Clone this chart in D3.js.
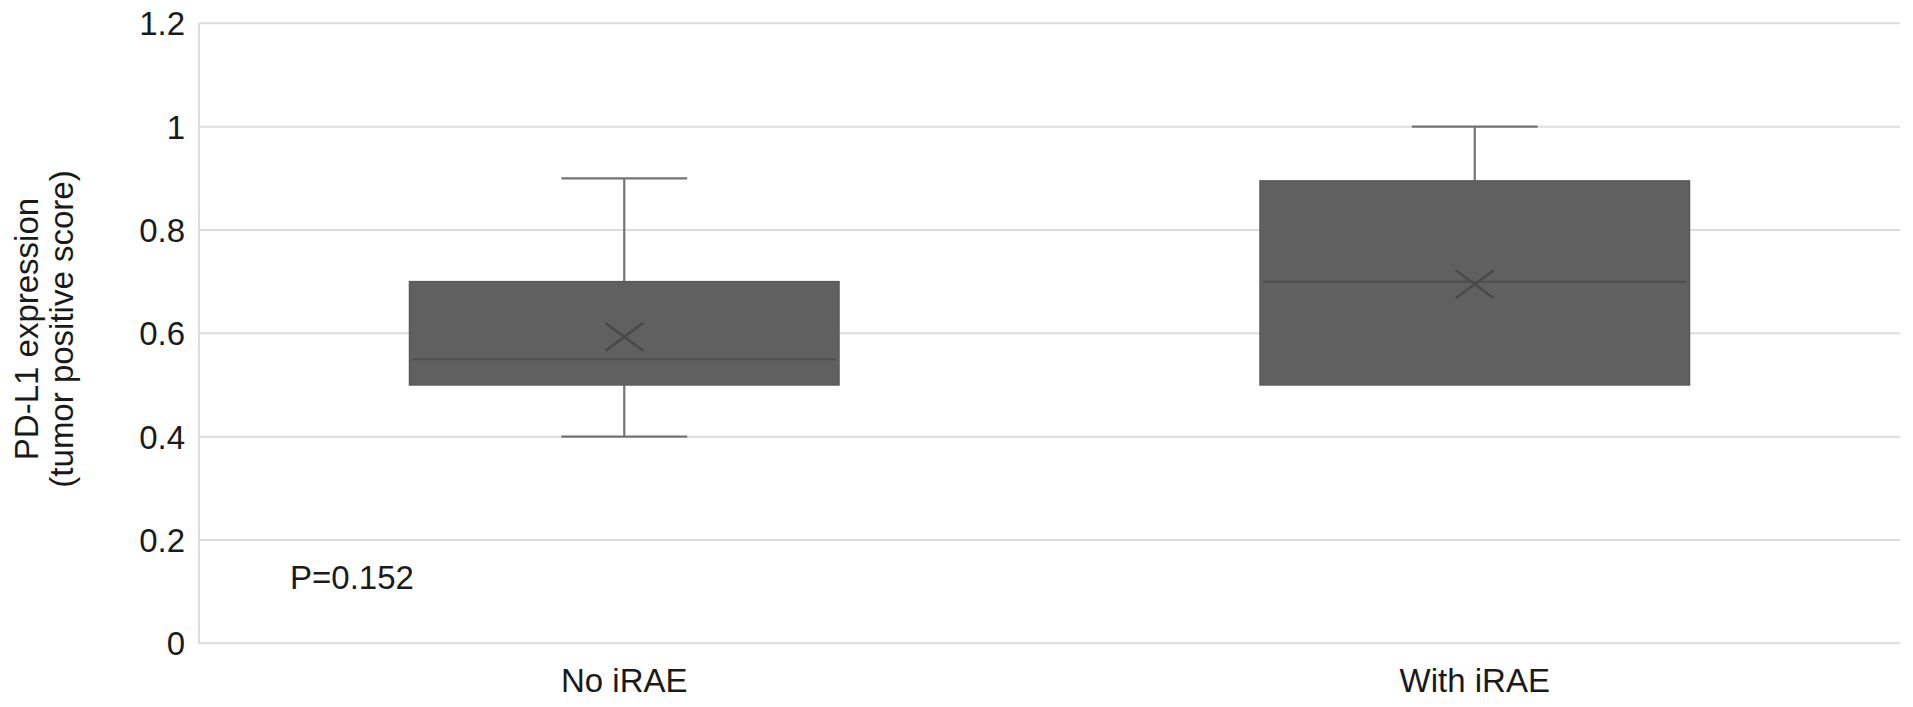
<!DOCTYPE html>
<html>
<head>
<meta charset="utf-8">
<script src="https://cdn.jsdelivr.net/npm/d3@7"></script>
<style>
  html, body { margin: 0; padding: 0; background: #fff; }
  svg { display: block; }
  text { font-family: "Liberation Sans", Arial, sans-serif; fill: #1a1a1a; }
</style>
</head>
<body>
<svg id="chart" width="1913" height="707"></svg>
<script>
// ---- data ----
const categories = ["No iRAE", "With iRAE"];
const whiskerMin = [0.40, 0.50];
const q1 = [0.50, 0.50];
const median = [0.55, 0.70];
const q3 = [0.70, 0.895];
const whiskerMax = [0.90, 1.00];
const mean = [0.593, 0.695];
const yTicks = [0, 0.2, 0.4, 0.6, 0.8, 1, 1.2];
const yTitleLines = ["PD-L1 expression", "(tumor positive score)"];
const annotation = "P=0.152";

// ---- layout ----
const svg = d3.select("#chart");
const plotLeft = 199, plotRight = 1900, plotTop = 23.3, plotBottom = 643.3;
const FS = 33;

const x = d3.scaleBand().domain(categories).range([plotLeft, plotRight]).paddingInner(0).paddingOuter(0);
const y = d3.scaleLinear().domain([0, 1.2]).range([plotBottom, plotTop]);

// gridlines
svg.append("g").selectAll("line").data(yTicks).join("line")
  .attr("x1", plotLeft).attr("x2", plotRight)
  .attr("y1", d => y(d)).attr("y2", d => y(d))
  .attr("stroke", "#dcdcdc").attr("stroke-width", 2);

// left axis line
svg.append("line").attr("x1", plotLeft).attr("x2", plotLeft)
  .attr("y1", y(1.2)).attr("y2", y(0))
  .attr("stroke", "#dcdcdc").attr("stroke-width", 2);

// y tick labels via axis
const yAxis = d3.axisLeft(y).tickValues(yTicks).tickSize(0).tickPadding(14)
  .tickFormat(d => d3.format("~g")(d));
const ya = svg.append("g").attr("transform", `translate(${plotLeft},0)`).call(yAxis);
ya.select(".domain").remove();
ya.selectAll("text").attr("font-size", FS).attr("font-family", "Liberation Sans, Arial, sans-serif")
  .attr("fill", "#1a1a1a").attr("dy", "0.35em");

// x tick labels via axis
const xAxis = d3.axisBottom(x).tickSize(0).tickPadding(0);
const xa = svg.append("g").attr("transform", `translate(0,${plotBottom})`).call(xAxis);
xa.select(".domain").remove();
xa.selectAll("text").attr("font-size", FS).attr("font-family", "Liberation Sans, Arial, sans-serif")
  .attr("fill", "#1a1a1a").attr("dy", null).attr("y", 49);

// y title
const yt = svg.append("text")
  .attr("transform", `translate(0,${329}) rotate(-90)`)
  .attr("text-anchor", "middle").attr("font-size", FS);
yt.selectAll("tspan").data(yTitleLines).join("tspan")
  .attr("x", 0).attr("y", (d, i) => 38 + i * 35)
  .text(d => d);

// boxes
const bw = x.bandwidth();
const boxW = bw * 0.505;
const capW = bw * 0.148;
const data = categories.map((c, i) => ({
  c, lo: whiskerMin[i], q1: q1[i], med: median[i], q3: q3[i], hi: whiskerMax[i], mean: mean[i]
}));

const g = svg.append("g").selectAll("g").data(data).join("g");
const cx = d => x(d.c) + bw / 2;
const wc = "#747474", ww = 2.2;

// upper whisker + cap
g.append("line").attr("x1", cx).attr("x2", cx)
  .attr("y1", d => y(d.hi)).attr("y2", d => y(d.q3))
  .attr("stroke", wc).attr("stroke-width", ww);
g.append("line").attr("x1", d => cx(d) - capW / 2).attr("x2", d => cx(d) + capW / 2)
  .attr("y1", d => y(d.hi)).attr("y2", d => y(d.hi))
  .attr("stroke", wc).attr("stroke-width", ww);
// lower whisker + cap (only where it extends beyond the box)
const low = g.filter(d => d.lo < d.q1);
low.append("line").attr("x1", cx).attr("x2", cx)
  .attr("y1", d => y(d.q1)).attr("y2", d => y(d.lo))
  .attr("stroke", wc).attr("stroke-width", ww);
low.append("line").attr("x1", d => cx(d) - capW / 2).attr("x2", d => cx(d) + capW / 2)
  .attr("y1", d => y(d.lo)).attr("y2", d => y(d.lo))
  .attr("stroke", wc).attr("stroke-width", ww);

// box
g.append("rect")
  .attr("x", d => cx(d) - boxW / 2).attr("width", boxW)
  .attr("y", d => y(d.q3)).attr("height", d => y(d.q1) - y(d.q3))
  .attr("fill", "#606060").attr("stroke", "#5a5a5a").attr("stroke-width", 1.5);

// median
g.append("line").attr("x1", d => cx(d) - boxW / 2 + 3).attr("x2", d => cx(d) + boxW / 2 - 3)
  .attr("y1", d => y(d.med)).attr("y2", d => y(d.med))
  .attr("stroke", "#4e4e4e").attr("stroke-width", 2);

// mean marker (X)
const mx = 19, my = 14;
g.append("path")
  .attr("d", d => {
    const px = cx(d), py = y(d.mean);
    return `M${px - mx},${py - my}L${px + mx},${py + my}M${px - mx},${py + my}L${px + mx},${py - my}`;
  })
  .attr("stroke", "#4a4a4a").attr("stroke-width", 2.6).attr("fill", "none");

// annotation
svg.append("text").attr("x", 290).attr("y", 589).attr("font-size", FS).text(annotation);
</script>
</body>
</html>
